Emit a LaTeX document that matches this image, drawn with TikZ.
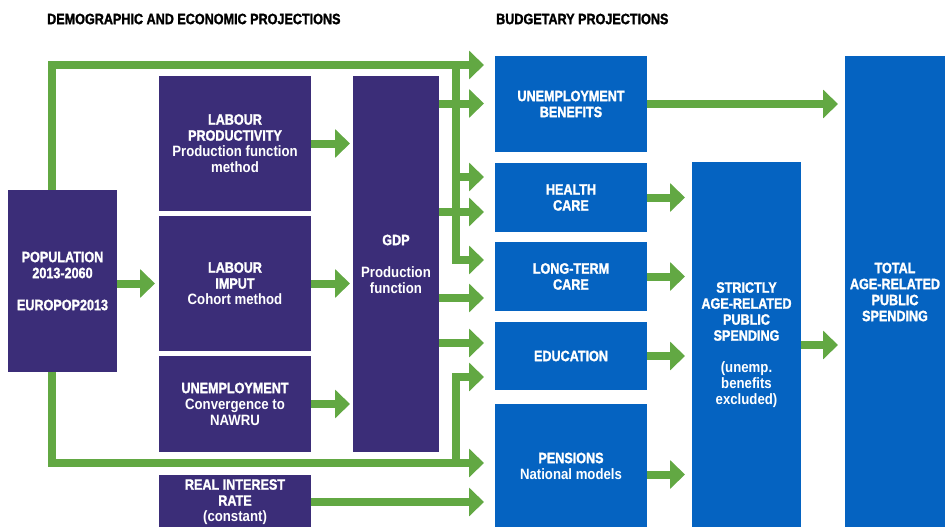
\documentclass[tikz,border=0pt]{standalone}
\usepackage{fontspec}
\setmainfont{Liberation Sans}
\newfontfamily\capfont{Liberation Sans}[FakeStretch=0.84, FakeBold=1.5]
\newfontfamily\subfont{Liberation Sans}[FakeStretch=0.88]
\usetikzlibrary{arrows.meta}

\definecolor{deep}{RGB}{59,45,120}
\definecolor{azure}{RGB}{5,99,193}
\definecolor{leaf}{RGB}{98,168,67}

\tikzset{
  box/.style={inner sep=0pt, outer sep=0pt, align=center, text=white,
    font=\capfont\bfseries\fontsize{15}{16}\selectfont},
  inbox/.style={box, fill=deep},
  outbox/.style={box, fill=azure},
  flow/.style={draw=leaf, line width=8pt},
  flowarr/.style={flow, -{Triangle[length=15pt,width=28pt]}},
  toblue/.style={shorten >=11pt},
  heading/.style={anchor=west, inner sep=0pt, text=black,
    font=\capfont\bfseries\fontsize{15}{16}\selectfont}
}

\begin{document}
\begin{tikzpicture}[x=1pt, y=-1pt]
  \clip (0,0) rectangle (945,527);

  % section titles
  \node[heading] (demo) at (47,19) {DEMOGRAPHIC AND ECONOMIC PROJECTIONS};
  \node[heading] (budg) at (496,19) {BUDGETARY PROJECTIONS};

  % demographic and economic inputs
  \node[inbox, minimum width=109pt, minimum height=182pt] (pop) at (62.5,281)
    {POPULATION\\2013-2060\\[16pt]EUROPOP2013};
  \node[inbox, minimum width=152pt, minimum height=135pt] (lp) at (235,143.5)
    {LABOUR\\PRODUCTIVITY\\{\subfont Production function}\\{\subfont method}};
  \node[inbox, minimum width=152pt, minimum height=135pt] (li) at (235,283.5)
    {LABOUR\\IMPUT\\{\subfont Cohort method}};
  \node[inbox, minimum width=152pt, minimum height=96pt] (un) at (235,404)
    {UNEMPLOYMENT\\{\subfont Convergence to}\\{\subfont NAWRU}};
  \node[inbox, minimum width=152pt, minimum height=54pt] (rir) at (235,502)
    {REAL INTEREST\\RATE\\{\subfont (constant)}};
  \node[inbox, minimum width=86pt, minimum height=376pt] (gdp) at (396,264)
    {GDP\\[16pt]{\subfont Production}\\{\subfont function}};

  % budgetary items
  \node[outbox, minimum width=152pt, minimum height=96pt] (ub) at (571,104)
    {UNEMPLOYMENT\\BENEFITS};
  \node[outbox, minimum width=152pt, minimum height=69pt] (hc) at (571,197.5)
    {HEALTH\\CARE};
  \node[outbox, minimum width=152pt, minimum height=69pt] (ltc) at (571,276.5)
    {LONG-TERM\\CARE};
  \node[outbox, minimum width=152pt, minimum height=68pt] (edu) at (571,356)
    {EDUCATION};
  \node[outbox, minimum width=152pt, minimum height=124pt] (pen) at (571,466)
    {PENSIONS\\{\subfont National models}};
  \node[outbox, minimum width=109pt, minimum height=366pt] (str) at (746.5,345)
    {STRICTLY\\AGE-RELATED\\PUBLIC\\SPENDING\\[16pt]{\subfont (unemp.}\\{\subfont benefits}\\{\subfont excluded)}};
  \node[outbox, minimum width=100pt, minimum height=472pt] (tot) at (895,292)
    {TOTAL\\AGE-RELATED\\PUBLIC\\SPENDING};

  % rows and columns used by the flow lines
  \coordinate (xPop) at (51.5,0);
  \coordinate (xBus) at (455.5,0);
  \coordinate (yTop) at (0,65);
  \coordinate (yUB) at (0,103.5);
  \coordinate (yHCa) at (0,177);
  \coordinate (yHCb) at (0,212);
  \coordinate (yLTCa) at (0,260);
  \coordinate (yLTCb) at (0,298);
  \coordinate (yEDa) at (0,343);
  \coordinate (yEDb) at (0,377);
  \coordinate (yPENa) at (0,463);
  \coordinate (yPENb) at (0,502);
  \coordinate (yPENc) at (0,474.5);

  % population feeds the budget directly (upper and lower buses)
  \draw[flowarr, toblue] (xPop |- pop.north) |- (ub.west |- yTop);
  \draw[flowarr, toblue] (xBus |- yTop) |- (ltc.west |- yLTCa);
  \draw[flowarr, toblue] (xBus |- yHCa) -- (hc.west |- yHCa);
  \draw[flowarr, toblue] (xPop |- pop.south) |- (pen.west |- yPENa);
  \draw[flowarr, toblue] (xBus |- yPENa) |- (edu.west |- yEDb);

  % GDP feeds the budget
  \draw[flowarr, toblue] (gdp.east |- yUB) -- (ub.west |- yUB);
  \draw[flowarr, toblue] (gdp.east |- yHCb) -- (hc.west |- yHCb);
  \draw[flowarr, toblue] (gdp.east |- yLTCb) -- (ltc.west |- yLTCb);
  \draw[flowarr, toblue] (gdp.east |- yEDa) -- (edu.west |- yEDa);
  \draw[flowarr, toblue] (rir.east |- yPENb) -- (pen.west |- yPENb);

  % inputs to GDP
  \draw[flowarr, shorten >=4pt] (pop.east |- li.west) -- (li.west);
  \draw[flowarr, shorten >=3pt] (lp.east) -- (gdp.west |- lp.east);
  \draw[flowarr, shorten >=3pt] (li.east) -- (gdp.west |- li.east);
  \draw[flowarr, shorten >=3pt] (un.east) -- (gdp.west |- un.east);

  % aggregation of spending
  \draw[flowarr, shorten >=7pt] (ub.east) -- (tot.west |- ub.east);
  \draw[flowarr, shorten >=7pt] (hc.east) -- (str.west |- hc.east);
  \draw[flowarr, shorten >=7pt] (ltc.east) -- (str.west |- ltc.east);
  \draw[flowarr, shorten >=7pt] (edu.east) -- (str.west |- edu.east);
  \draw[flowarr, shorten >=7pt] (pen.east |- yPENc) -- (str.west |- yPENc);
  \draw[flowarr, shorten >=7pt] (str.east) -- (tot.west |- str.east);
\end{tikzpicture}
\end{document}
